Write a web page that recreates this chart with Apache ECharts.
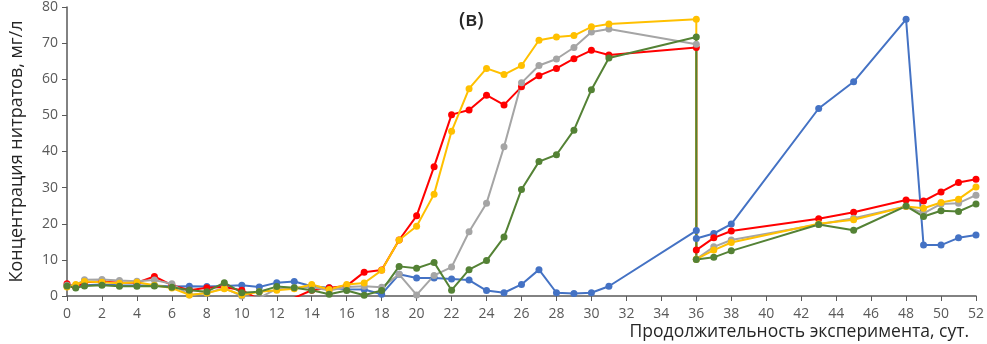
<!DOCTYPE html>
<html>
<head>
<meta charset="utf-8">
<script src="https://cdn.jsdelivr.net/npm/echarts@6/dist/echarts.min.js"></script>
<style>
	html, body { margin: 0; padding: 0; background: #fff; }
	#chart { width: 987px; height: 344px; }
</style>
</head>
<body>
<div id="chart"></div>
<script>
// days of the experiment (36 appears twice: before and after the reset)
const days = [0, 0.5, 1, 2, 3, 4, 5, 6, 7, 8, 9, 10, 11, 12, 13, 14, 15, 16, 17, 18, 19, 20,
	21, 22, 23, 24, 25, 26, 27, 28, 29, 30, 31, 36, 36, 37, 38, 43, 45, 48, 49, 50, 51, 52]

const blueValues = [2.8, 2.6, 3.0, 3.2, 3.0, 2.9, 2.9, 2.6, 2.7, 2.6, 2.8, 3.0, 2.5, 3.7, 4.0, 2.7, 2.3, 1.9, 1.8, 0.5, 6.0, 5.0,
	5.0, 4.7, 4.4, 1.5, 0.9, 3.2, 7.3, 0.9, 0.7, 0.9, 2.7, 18.1, 15.9, 17.3, 19.9, 51.9, 59.3, 76.6, 14.1, 14.1, 16.1, 16.9]
const redValues = [3.4, 2.5, 3.8, 4.0, 3.7, 3.7, 5.4, 3.0, 1.6, 2.3, 2.5, 1.6, -1, -1.5, -0.5, 1.6, 2.3, 2.8, 6.6, 7.2, 15.5, 22.2,
	35.8, 50.2, 51.5, 55.6, 52.9, 57.9, 61.0, 63.0, 65.7, 68.0, 66.7, 68.8, 12.7, 16.1, 18.0, 21.4, 23.2, 26.6, 26.3, 28.8, 31.4, 32.3]
const grayValues = [3.0, 3.0, 4.5, 4.6, 4.3, 4.1, 4.4, 3.4, 0.3, 0.8, 2.2, 0, -0.5, 2.0, 2.3, 2.5, 1.5, 2.5, 2.7, 2.4, 6.0, 0.3,
	5.7, 8.0, 17.8, 25.7, 41.3, 59.0, 63.8, 65.6, 68.8, 73.1, 73.9, 69.7, 10.2, 13.6, 15.5, 19.8, 21.5, 24.8, 22.9, 25.5, 25.7, 27.9]
const yellowValues = [2.5, 3.2, 4.0, 3.8, 3.5, 3.8, 3.0, 2.2, 0.3, 0.8, 2.0, 0.3, 1.2, 1.6, 2.0, 3.2, 1.8, 3.2, 3.6, 7.1, 15.5, 19.3,
	28.2, 45.6, 57.4, 63.0, 61.3, 63.8, 70.8, 71.7, 72.1, 74.5, 75.3, 76.6, 10.2, 12.7, 14.8, 20.0, 21.1, 24.8, 24.3, 25.9, 26.8, 30.2]
const greenValues = [2.8, 2.2, 2.8, 3.0, 2.7, 2.7, 2.8, 2.4, 1.6, 1.2, 3.7, 0.9, 1.2, 2.6, 2.3, 1.6, 0.5, 1.5, 0.2, 1.5, 8.2, 7.7,
	9.3, 1.6, 7.3, 9.8, 16.3, 29.5, 37.2, 39.1, 45.9, 57.1, 65.9, 71.7, 10.1, 10.7, 12.5, 19.8, 18.2, 24.9, 22.0, 23.6, 23.4, 25.5]

const seriesColors = ['#4472C4', '#FF0000', '#A5A5A5', '#FFC000', '#548235']
const seriesValues = [blueValues, redValues, grayValues, yellowValues, greenValues]

const chart = echarts.init(document.getElementById('chart'))

chart.setOption({
	animation: false,
	textStyle: { fontFamily: 'Open Sans' },
	title: {
		text: '(в)',
		left: 454,
		top: 5,
		textStyle: { fontSize: 20, fontWeight: 600, color: '#262626' }
	},
	grid: {
		left: 65,
		right: 9,
		top: 2,
		bottom: 48
	},
	xAxis: {
		type: 'value',
		min: 0,
		max: 52,
		interval: 2,
		name: 'Продолжительность эксперимента, сут.',
		nameLocation: 'end',
		nameGap: -7,
		nameTextStyle: {
			align: 'right',
			verticalAlign: 'top',
			padding: [27, 0, 0, 0],
			fontSize: 17.5,
			color: '#262626'
		},
		axisLine: { onZero: false, lineStyle: { color: '#595959', width: 1.5 } },
		axisTick: { show: true, length: 5, lineStyle: { color: '#595959' } },
		axisLabel: { fontSize: 14, color: '#595959', margin: 11 },
		splitLine: { show: false }
	},
	yAxis: {
		type: 'value',
		min: 0,
		max: 80,
		interval: 10,
		name: 'Концентрация нитратов, мг/л',
		nameLocation: 'middle',
		nameGap: 41,
		nameTextStyle: { fontSize: 18, color: '#262626' },
		axisLine: { show: true, lineStyle: { color: '#595959', width: 1.5 } },
		axisTick: { show: true, length: 5, lineStyle: { color: '#595959' } },
		axisLabel: { fontSize: 14, color: '#595959', margin: 9 },
		splitLine: { show: false }
	},
	series: seriesValues.map((values, i) => ({
		type: 'line',
		data: values.map((v, j) => [days[j], v]),
		symbol: 'circle',
		symbolSize: 7,
		clip: true,
		lineStyle: { width: 2, color: seriesColors[i] },
		itemStyle: { color: seriesColors[i] }
	}))
})
</script>
</body>
</html>
